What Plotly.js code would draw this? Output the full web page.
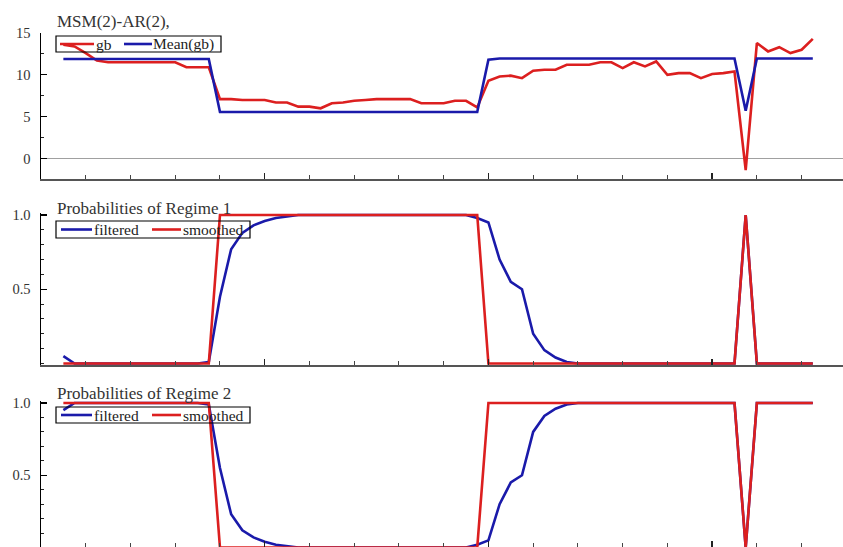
<!DOCTYPE html>
<html>
<head>
<meta charset="utf-8">
<script src="https://cdn.plot.ly/plotly-3.0.1.min.js"></script>
<style>
html, body { margin: 0; padding: 0; background: #fff; }
#chart { width: 843px; height: 547px; }
</style>
</head>
<body>
<div id="chart"></div>
<script>
// Period index (quarters counted from axis start)
const period = [2,3,4,5,6,7,8,9,10,11,12,13,14,15,16,17,18,19,20,21,22,23,24,25,26,27,28,29,30,31,32,33,34,35,
  36,37,38,39,40,41,42,43,44,45,46,47,48,49,50,51,52,53,54,55,56,57,58,59,60,61,62,63,64,65,66,67,68,69];

const gb = [13.6,13.4,12.6,11.7,11.5,11.5,11.5,11.5,11.5,11.5,11.5,10.9,10.9,10.9,
  7.1,7.1,7.0,7.0,7.0,6.7,6.7,6.2,6.2,6.0,6.6,6.7,6.9,7.0,7.1,7.1,7.1,7.1,6.6,6.6,6.6,6.9,6.9,6.1,
  9.3,9.8,9.9,9.6,10.5,10.6,10.6,11.2,11.2,11.2,11.5,11.5,10.8,11.5,11.0,11.6,10.0,10.2,10.2,9.6,10.1,10.2,10.4,
  -1.4,13.8,12.8,13.3,12.6,13.0,14.3];

const meanGb = [11.9,11.9,11.9,11.9,11.9,11.9,11.9,11.9,11.9,11.9,11.9,11.9,11.9,11.9,
  5.55,5.55,5.55,5.55,5.55,5.55,5.55,5.55,5.55,5.55,5.55,5.55,5.55,5.55,5.55,5.55,5.55,5.55,5.55,5.55,5.55,5.55,5.55,5.55,
  11.8,11.95,11.95,11.95,11.95,11.95,11.95,11.95,11.95,11.95,11.95,11.95,11.95,11.95,11.95,11.95,11.95,11.95,11.95,11.95,11.95,11.95,11.95,
  5.7,11.95,11.95,11.95,11.95,11.95,11.95];

const p1Filtered = [0.05,0.0,0,0,0,0,0,0,0,0,0,0,0,0.01,
  0.45,0.77,0.88,0.93,0.96,0.98,0.99,1,1,1,1,1,1,1,1,1,1,1,1,1,1,1,1,0.98,
  0.95,0.70,0.55,0.50,0.20,0.09,0.04,0.01,0,0,0,0,0,0,0,0,0,0,0,0,0,0,0,
  1,0,0,0,0,0,0];

const p1Smoothed = [0,0,0,0,0,0,0,0,0,0,0,0,0,0,
  1,1,1,1,1,1,1,1,1,1,1,1,1,1,1,1,1,1,1,1,1,1,1,1,
  0,0,0,0,0,0,0,0,0,0,0,0,0,0,0,0,0,0,0,0,0,0,0,
  1,0,0,0,0,0,0];

const p2Filtered = [0.95,1.0,1,1,1,1,1,1,1,1,1,1,1,0.99,
  0.55,0.23,0.12,0.07,0.04,0.02,0.01,0,0,0,0,0,0,0,0,0,0,0,0,0,0,0,0,0.02,
  0.05,0.30,0.45,0.50,0.80,0.91,0.96,0.99,1,1,1,1,1,1,1,1,1,1,1,1,1,1,1,
  0,1,1,1,1,1,1];

const p2Smoothed = [1,1,1,1,1,1,1,1,1,1,1,1,1,1,
  0,0,0,0,0,0,0,0,0,0,0,0,0,0,0,0,0,0,0,0,0,0,0,0,
  1,1,1,1,1,1,1,1,1,1,1,1,1,1,1,1,1,1,1,1,1,1,1,
  0,1,1,1,1,1,1];

const panelTitles = ['MSM(2)-AR(2),', 'Probabilities of Regime 1', 'Probabilities of Regime 2'];
const legendNames = [['gb', 'Mean(gb)'], ['filtered', 'smoothed'], ['filtered', 'smoothed']];

const RED = '#dc1f1f';
const BLUE = '#1a1aaa';
const SERIF = 'Liberation Serif, Times New Roman, serif';

const traces = [
  {x: period, y: gb, name: legendNames[0][0], type: 'scatter', mode: 'lines', line: {color: RED, width: 2.6}, xaxis: 'x', yaxis: 'y'},
  {x: period, y: meanGb, name: legendNames[0][1], type: 'scatter', mode: 'lines', line: {color: BLUE, width: 2.6}, xaxis: 'x', yaxis: 'y'},
  {x: period, y: p1Filtered, name: legendNames[1][0], type: 'scatter', mode: 'lines', line: {color: BLUE, width: 2.6}, xaxis: 'x2', yaxis: 'y2'},
  {x: period, y: p1Smoothed, name: legendNames[1][1], type: 'scatter', mode: 'lines', line: {color: RED, width: 2.6}, xaxis: 'x2', yaxis: 'y2'},
  {x: period, y: p2Filtered, name: legendNames[2][0], type: 'scatter', mode: 'lines', line: {color: BLUE, width: 2.6}, xaxis: 'x3', yaxis: 'y3'},
  {x: period, y: p2Smoothed, name: legendNames[2][1], type: 'scatter', mode: 'lines', line: {color: RED, width: 2.6}, xaxis: 'x3', yaxis: 'y3'}
];

const W = 843, H = 547, ML = 41;
const PW = W - ML;
function px(xp) { return (xp - ML) / PW; }
function py(yp) { return 1 - yp / H; }
function dom(topPx, botPx) { return [py(botPx), py(topPx)]; }

function xAxis(anchor) {
  return {
    anchor: anchor, domain: [0, 1], range: [0, 71.7],
    showline: true, linecolor: '#555', linewidth: 1.5,
    ticks: 'inside', tickcolor: '#222', ticklen: 6, tickwidth: 1.5,
    tick0: 0, dtick: 20,
    minor: {dtick: 4, tick0: 0, ticks: 'inside', ticklen: 4, tickcolor: '#444', tickwidth: 1},
    showticklabels: false, showgrid: false, zeroline: false
  };
}
function yAxis(anchor, domain, range, tickvals, ticktext, minorDtick, zeroline) {
  return {
    anchor: anchor, domain: domain, range: range,
    showline: true, linecolor: '#000', linewidth: 1.5,
    ticks: 'inside', tickcolor: '#000', ticklen: 6, tickwidth: 1.2,
    tickvals: tickvals, ticktext: ticktext,
    minor: {dtick: minorDtick, tick0: 0, ticks: 'inside', ticklen: 3, tickcolor: '#222', tickwidth: 1},
    tickfont: {family: SERIF, size: 14.5, color: '#333'},
    ticklabelstandoff: 6,
    showgrid: false,
    zeroline: zeroline, zerolinecolor: '#a0a0a0', zerolinewidth: 1.5
  };
}

// Legend boxes drawn as shapes + text (pixel geometry of each box)
const legendBoxes = [
  {x0: 56, x1: 221, y0: 36, y1: 52, c1: RED, c2: BLUE, s1: [60, 94], t1: 95, s2: [124, 152], t2: 152},
  {x0: 56, x1: 250, y0: 221, y1: 238, c1: BLUE, c2: RED, s1: [61, 92], t1: 93, s2: [152, 181], t2: 182},
  {x0: 56, x1: 250, y0: 407, y1: 423, c1: BLUE, c2: RED, s1: [61, 92], t1: 93, s2: [152, 181], t2: 182}
];

const shapes = [];
const annotations = [];
legendBoxes.forEach(function (b, k) {
  const yc = (b.y0 + b.y1) / 2;
  shapes.push({type: 'rect', xref: 'paper', yref: 'paper', x0: px(b.x0), x1: px(b.x1), y0: py(b.y1), y1: py(b.y0),
    line: {color: '#000', width: 1.2}, fillcolor: 'rgba(0,0,0,0)', layer: 'above'});
  shapes.push({type: 'line', xref: 'paper', yref: 'paper', x0: px(b.s1[0]), x1: px(b.s1[1]), y0: py(yc), y1: py(yc),
    line: {color: b.c1, width: 2.6}, layer: 'above'});
  shapes.push({type: 'line', xref: 'paper', yref: 'paper', x0: px(b.s2[0]), x1: px(b.s2[1]), y0: py(yc), y1: py(yc),
    line: {color: b.c2, width: 2.6}, layer: 'above'});
  annotations.push({text: legendNames[k][0], xref: 'paper', yref: 'paper', x: px(b.t1), y: py(yc), xanchor: 'left', yanchor: 'middle',
    showarrow: false, borderpad: 0, font: {family: SERIF, size: 15.5, color: '#222'}});
  annotations.push({text: legendNames[k][1], xref: 'paper', yref: 'paper', x: px(b.t2), y: py(yc), xanchor: 'left', yanchor: 'middle',
    showarrow: false, borderpad: 0, font: {family: SERIF, size: 15.5, color: '#222'}});
});

const titleY = [22, 208, 393];
panelTitles.forEach(function (t, k) {
  annotations.push({text: t, xref: 'paper', yref: 'paper', x: px(56), y: py(titleY[k]), xanchor: 'left', yanchor: 'middle',
    showarrow: false, borderpad: 0, font: {family: SERIF, size: 17, color: '#333'}});
});

const layout = {
  width: W, height: H,
  margin: {l: ML, r: 0, t: 0, b: 0, pad: 0},
  paper_bgcolor: '#fff', plot_bgcolor: '#fff',
  showlegend: false,
  xaxis: xAxis('y'),
  xaxis2: xAxis('y2'),
  xaxis3: xAxis('y3'),
  yaxis: yAxis('x', dom(33, 179), [-2.45, 15], [0, 5, 10, 15], ['0', '5', '10', '15'], 2.5, true),
  yaxis2: yAxis('x2', dom(213, 365), [-0.0101, 1.0135], [0.5, 1], ['0.5', '1.0'], 0.1, false),
  yaxis3: yAxis('x3', dom(401, 547), [0.004, 1.0137], [0.5, 1], ['0.5', '1.0'], 0.1, false),
  shapes: shapes,
  annotations: annotations
};

Plotly.newPlot('chart', traces, layout, {displayModeBar: false, staticPlot: true});
</script>
</body>
</html>
